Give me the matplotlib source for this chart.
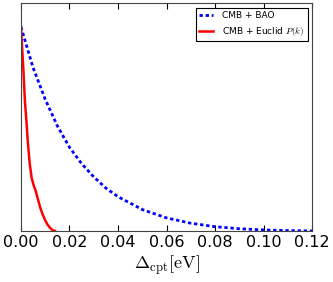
import numpy as np
from matplotlib import pyplot as plt

plt.rcParams['mathtext.fontset'] = 'cm'

# values
x_bao = [0.0, 0.005, 0.01, 0.015, 0.02, 0.025, 0.03, 0.035, 0.04, 0.05,
         0.06, 0.07, 0.08, 0.09, 0.10, 0.11, 0.12]
y_bao = [1.0, 0.80, 0.645, 0.515, 0.41, 0.33, 0.265, 0.21, 0.168, 0.105,
         0.064, 0.038, 0.021, 0.011, 0.005, 0.002, 0.0]

x_euclid = [0.0, 0.0005, 0.001, 0.0016, 0.0023, 0.0028, 0.0036, 0.0044, 0.0052,
            0.0061, 0.0070, 0.0078, 0.0088, 0.0099, 0.011, 0.012, 0.013, 0.014]
y_euclid = [1.0, 0.89, 0.79, 0.64, 0.53, 0.44, 0.33, 0.26, 0.225,
            0.195, 0.155, 0.12, 0.085, 0.054, 0.03, 0.015, 0.004, 0.0]

xticks = [0.0, 0.02, 0.04, 0.06, 0.08, 0.10, 0.12]

fig = plt.figure(figsize=(3.33, 2.82), dpi=100)
ax = fig.add_axes([0.063, 0.181, 0.874, 0.808])

ax.plot(x_bao, y_bao, color='b', lw=2, linestyle=(0, (1.2, 1.0)), label='CMB + BAO')
ax.plot(x_euclid, y_euclid, color='r', lw=1.8, label=r'CMB + Euclid $P(k)$')

ax.set_xlim(0, 0.12)
ax.set_ylim(0, 1.117)
ax.set_xticks(xticks)
ax.set_xticklabels(['%.2f' % t for t in xticks], fontsize=11.5)
ax.set_yticks([])
ax.tick_params(axis='x', direction='in', top=True, length=4, pad=3)
for s in ax.spines.values():
    s.set_color('#444444')

ax.set_xlabel(r'$\Delta_{\rm cpt}[\rm eV]$', fontsize=13, labelpad=2)

leg = ax.legend(loc='upper right', fontsize=6.5, fancybox=False, framealpha=1,
                handlelength=1.5, handletextpad=1.0, borderaxespad=0.5, borderpad=0.4)
leg.get_frame().set_edgecolor('black')
leg.get_frame().set_linewidth(0.8)

fig.savefig('out.png', dpi=100)
